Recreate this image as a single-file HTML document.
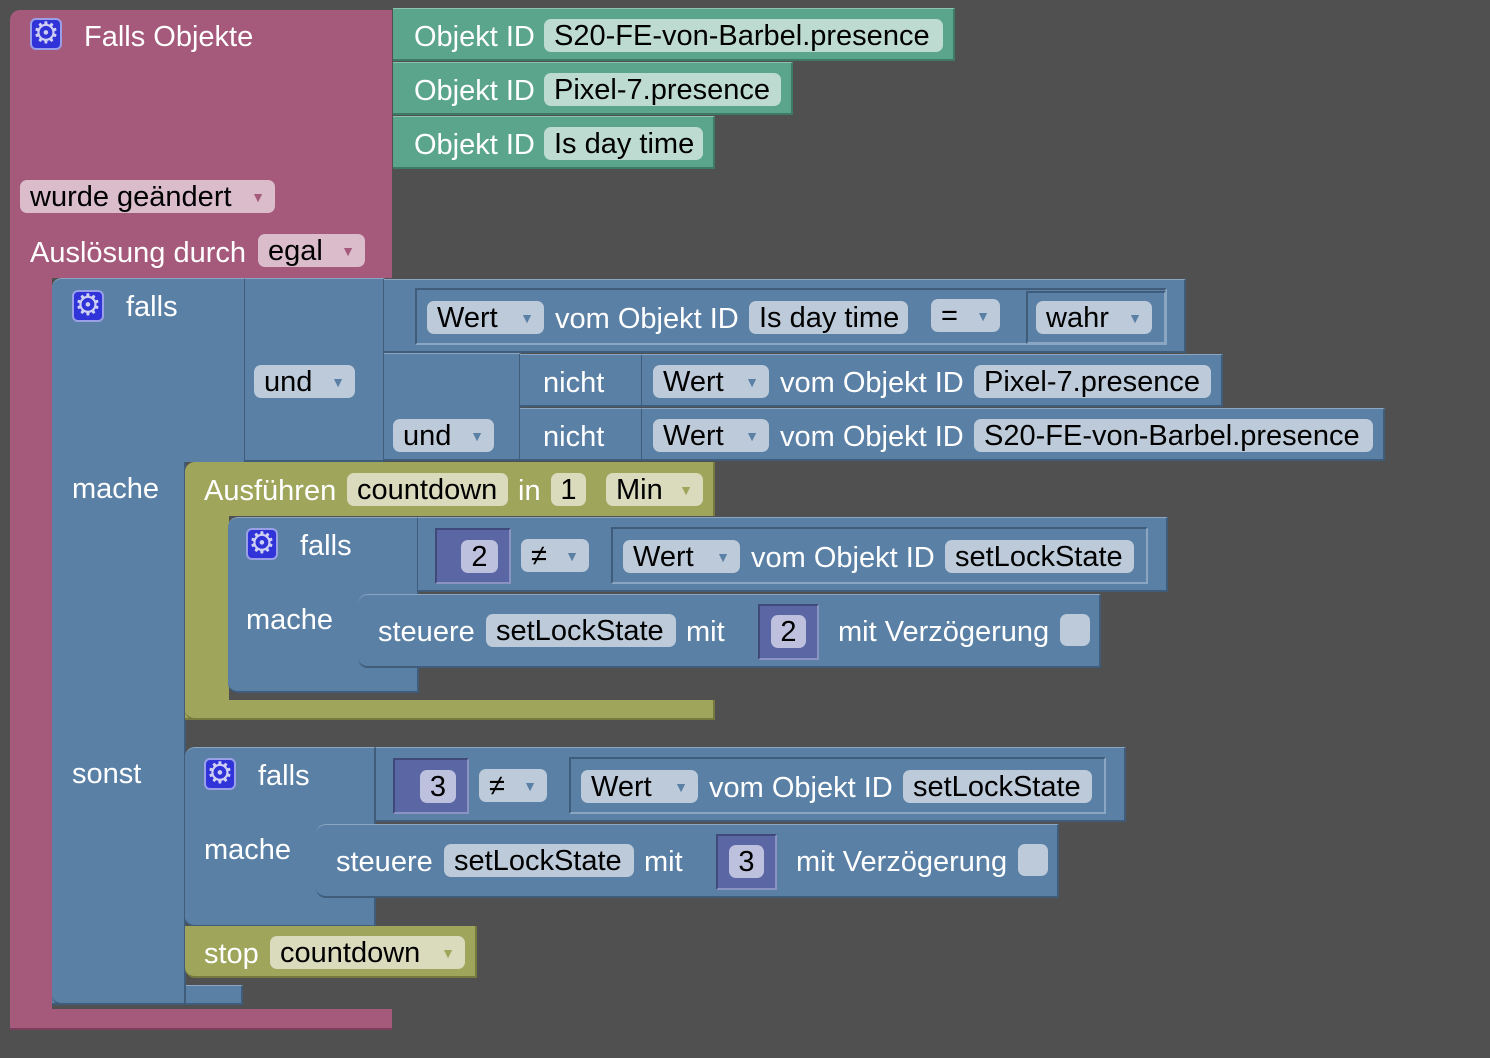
<!DOCTYPE html>
<html><head><meta charset="utf-8"><style>
body{margin:0;width:1490px;height:1058px;background:#505050;position:relative;overflow:hidden;font-family:"Liberation Sans",Arial,sans-serif;font-size:29px;}
div{position:absolute;box-sizing:border-box;}
.p{background:#a5597b;}
.g{background:#5ba58c;border-right:2px solid #3f7a66;border-bottom:2px solid #3f7a66;border-top:1px solid #8cc2ae;}
.b{background:#5b80a5;border-right:2px solid #3f5c7a;border-bottom:2px solid #3f5c7a;border-top:1px solid #8aa6c2;}
.bi{border:2px solid #3f5c7a;border-right-color:#8aa6c2;border-bottom-color:#8aa6c2;}
.o{background:#9fa55b;border-right:2px solid #767a3f;border-bottom:2px solid #767a3f;}
.n{background:#5b67a5;border:2px solid #404a7a;border-right-color:#8a93c2;border-bottom-color:#8a93c2;}
.t{color:#fff;line-height:36px;white-space:nowrap;}
.f{border-radius:7px;color:#000;line-height:35px;white-space:nowrap;padding-left:10px;height:33px;}
.fp{background:#dbbccb;}.fg{background:#bddbd0;}.fb{background:#bccad9;}.fo{background:#d9dbbc;}.fn{background:#bdc1dd;padding-left:0;text-align:center;}
.ar{font-size:14px;position:absolute;right:10px;top:0;}
.fp .ar{color:#a5597b}.fb .ar{color:#5b80a5}.fo .ar{color:#9fa55b}
.gear{width:32px;height:32px;background:#3033d8;border:2px solid #9aa0e8;border-radius:6px;color:#d0d0f4;font-size:30px;line-height:28px;text-align:center;font-family:"DejaVu Sans",sans-serif;}
.cb{background:#bccad9;border-radius:7px;}
</style></head><body>
<!-- pink -->
<div class="p" style="left:10px;top:10px;width:382px;height:268px;border-radius:10px 0 0 0;"></div>
<div class="p" style="left:10px;top:270px;width:42px;height:760px;border-radius:0 0 0 10px;"></div>
<div class="p" style="left:10px;top:1009px;width:382px;height:21px;border-bottom:2px solid #7a3f5a;"></div>
<div class="gear" style="left:30px;top:18px;">⚙</div>
<div class="t" style="left:84px;top:19px;">Falls Objekte</div>
<div class="f fp" style="left:20px;top:180px;width:255px;">wurde geändert<span class="ar">▼</span></div>
<div class="t" style="left:30px;top:235px;">Auslösung durch</div>
<div class="f fp" style="left:258px;top:234px;width:107px;">egal<span class="ar">▼</span></div>
<!-- green -->
<div class="g" style="left:393px;top:8px;width:562px;height:53px;"></div>
<div class="g" style="left:393px;top:62px;width:400px;height:53px;"></div>
<div class="g" style="left:393px;top:116px;width:322px;height:53px;"></div>
<div class="t" style="left:414px;top:19px;">Objekt ID</div>
<div class="t" style="left:414px;top:73px;">Objekt ID</div>
<div class="t" style="left:414px;top:127px;">Objekt ID</div>
<div class="f fg" style="left:544px;top:19px;width:399px;">S20-FE-von-Barbel.presence</div>
<div class="f fg" style="left:544px;top:73px;width:237px;">Pixel-7.presence</div>
<div class="f fg" style="left:544px;top:127px;width:159px;">Is day time</div>
<!-- blue main -->
<div class="b" style="left:52px;top:985px;width:191px;height:20px;"></div>
<div class="b" style="left:52px;top:278px;width:134px;height:727px;border-radius:10px 0 0 10px;"></div>
<div class="b" style="left:52px;top:278px;width:194px;height:184px;border-radius:10px 0 0 0;border-bottom:none;"></div>
<div class="gear" style="left:72px;top:290px;">⚙</div>
<div class="t" style="left:126px;top:289px;">falls</div>
<div class="t" style="left:72px;top:471px;">mache</div>
<div class="t" style="left:72px;top:756px;">sonst</div>
<!-- und -->
<div class="b" style="left:245px;top:278px;width:140px;height:184px;"></div>
<div class="f fb" style="left:254px;top:365px;width:101px;">und<span class="ar">▼</span></div>
<div class="b" style="left:384px;top:279px;width:802px;height:74px;"></div>
<div class="bi" style="left:415px;top:288px;width:752px;height:57px;"></div>
<div class="bi" style="left:1026px;top:291px;width:140px;height:53px;"></div>
<div class="f fb" style="left:427px;top:301px;width:117px;">Wert<span class="ar">▼</span></div>
<div class="t" style="left:555px;top:301px;">vom Objekt ID</div>
<div class="f fb" style="left:749px;top:301px;width:159px;">Is day time</div>
<div class="f fb" style="left:931px;top:299px;width:69px;">=<span class="ar">▼</span></div>
<div class="f fb" style="left:1036px;top:301px;width:116px;">wahr<span class="ar">▼</span></div>
<div class="b" style="left:384px;top:353px;width:137px;height:108px;"></div>
<div class="f fb" style="left:393px;top:419px;width:101px;">und<span class="ar">▼</span></div>
<div class="b" style="left:520px;top:354px;width:123px;height:53px;"></div>
<div class="b" style="left:520px;top:408px;width:123px;height:53px;"></div>
<div class="t" style="left:543px;top:365px;">nicht</div>
<div class="t" style="left:543px;top:419px;">nicht</div>
<div class="b" style="left:642px;top:354px;width:581px;height:53px;"></div>
<div class="b" style="left:642px;top:408px;width:743px;height:53px;"></div>
<div class="f fb" style="left:653px;top:365px;width:116px;">Wert<span class="ar">▼</span></div>
<div class="t" style="left:780px;top:365px;">vom Objekt ID</div>
<div class="f fb" style="left:974px;top:365px;width:237px;">Pixel-7.presence</div>
<div class="f fb" style="left:653px;top:419px;width:116px;">Wert<span class="ar">▼</span></div>
<div class="t" style="left:780px;top:419px;">vom Objekt ID</div>
<div class="f fb" style="left:974px;top:419px;width:399px;">S20-FE-von-Barbel.presence</div>
<!-- olive -->
<div class="o" style="left:185px;top:700px;width:530px;height:20px;"></div>
<div class="o" style="left:185px;top:462px;width:44px;height:258px;border-radius:10px 0 0 10px;border-right:none;"></div>
<div class="o" style="left:185px;top:462px;width:530px;height:54px;border-radius:10px 0 0 0;border-bottom:none;"></div>
<div class="t" style="left:204px;top:473px;">Ausführen</div>
<div class="f fo" style="left:347px;top:473px;width:161px;">countdown</div>
<div class="t" style="left:518px;top:473px;">in</div>
<div class="f fo fn" style="left:551px;top:473px;width:35px;background:#d9dbbc;">1</div>
<div class="f fo" style="left:606px;top:473px;width:97px;">Min<span class="ar">▼</span></div>
<!-- inner if 1 -->
<div class="b" style="left:228px;top:517px;width:191px;height:176px;border-radius:10px 0 0 10px;"></div>
<div class="gear" style="left:246px;top:528px;">⚙</div>
<div class="t" style="left:300px;top:528px;">falls</div>
<div class="t" style="left:246px;top:602px;">mache</div>
<div class="b" style="left:418px;top:517px;width:750px;height:75px;"></div>
<div class="n" style="left:435px;top:528px;width:76px;height:56px;"></div>
<div class="f fn" style="left:461px;top:540px;width:37px;">2</div>
<div class="f fb" style="left:521px;top:539px;width:68px;">≠<span class="ar">▼</span></div>
<div class="bi" style="left:611px;top:527px;width:537px;height:57px;"></div>
<div class="f fb" style="left:623px;top:540px;width:117px;">Wert<span class="ar">▼</span></div>
<div class="t" style="left:751px;top:540px;">vom Objekt ID</div>
<div class="f fb" style="left:945px;top:540px;width:189px;">setLockState</div>
<div class="b" style="left:358px;top:594px;width:743px;height:74px;border-radius:10px 0 0 10px;"></div>
<div class="t" style="left:378px;top:614px;">steuere</div>
<div class="f fb" style="left:486px;top:614px;width:190px;">setLockState</div>
<div class="t" style="left:686px;top:614px;">mit</div>
<div class="n" style="left:758px;top:604px;width:61px;height:56px;"></div>
<div class="f fn" style="left:771px;top:615px;width:35px;">2</div>
<div class="t" style="left:838px;top:614px;">mit Verzögerung</div>
<div class="cb" style="left:1060px;top:614px;width:30px;height:32px;"></div>
<!-- sonst if -->
<div class="b" style="left:185px;top:747px;width:191px;height:180px;border-radius:10px 0 0 10px;"></div>
<div class="gear" style="left:204px;top:758px;">⚙</div>
<div class="t" style="left:258px;top:758px;">falls</div>
<div class="t" style="left:204px;top:832px;">mache</div>
<div class="b" style="left:376px;top:747px;width:750px;height:75px;"></div>
<div class="n" style="left:393px;top:758px;width:76px;height:56px;"></div>
<div class="f fn" style="left:420px;top:770px;width:36px;">3</div>
<div class="f fb" style="left:479px;top:769px;width:68px;">≠<span class="ar">▼</span></div>
<div class="bi" style="left:569px;top:757px;width:537px;height:57px;"></div>
<div class="f fb" style="left:581px;top:770px;width:117px;">Wert<span class="ar">▼</span></div>
<div class="t" style="left:709px;top:770px;">vom Objekt ID</div>
<div class="f fb" style="left:903px;top:770px;width:189px;">setLockState</div>
<div class="b" style="left:316px;top:824px;width:743px;height:74px;border-radius:10px 0 0 10px;"></div>
<div class="t" style="left:336px;top:844px;">steuere</div>
<div class="f fb" style="left:444px;top:844px;width:190px;">setLockState</div>
<div class="t" style="left:644px;top:844px;">mit</div>
<div class="n" style="left:716px;top:834px;width:61px;height:56px;"></div>
<div class="f fn" style="left:729px;top:845px;width:35px;">3</div>
<div class="t" style="left:796px;top:844px;">mit Verzögerung</div>
<div class="cb" style="left:1018px;top:844px;width:30px;height:32px;"></div>
<!-- stop -->
<div class="o" style="left:185px;top:926px;width:292px;height:52px;border-radius:0 0 0 10px;"></div>
<div class="t" style="left:204px;top:936px;">stop</div>
<div class="f fo" style="left:270px;top:936px;width:195px;">countdown<span class="ar">▼</span></div>
</body></html>
